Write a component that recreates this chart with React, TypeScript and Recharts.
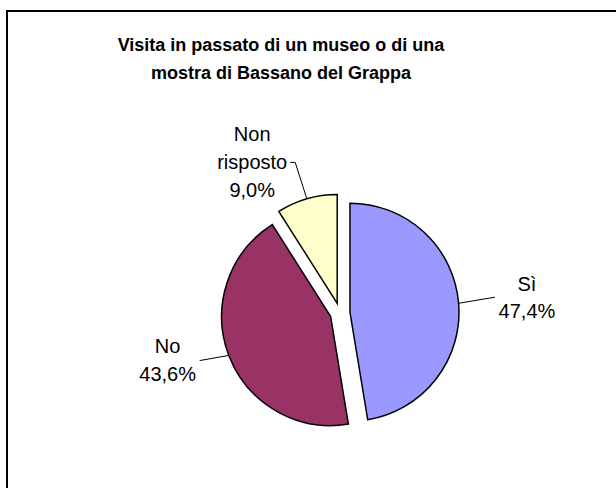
import React from 'react';
import { PieChart, Pie, Cell } from 'recharts';

const categories: string[] = ['Sì', 'No', 'Non risposto'];
const percentages: number[] = [47.4, 43.6, 9.0];
const colors: string[] = ['#9999FF', '#993366', '#FFFFCC'];
const titleLines: string[] = ['Visita in passato di un museo o di una', 'mostra di Bassano del Grappa'];

const data = categories.map((name, i) => ({ name, value: percentages[i] }));

const CENTER_X = 335;
const CENTER_Y = 308;
const RADIUS = 109;
const EXPLODE = 10;
const RAD = Math.PI / 180;
const FONT = '"Liberation Sans", Arial, sans-serif';

// label layout (relative to each exploded slice centre)
const labelStyle = [
  { tx: 177, ty: -28, lh: 27, line: [[145, -15]] },
  { tx: -163, ty: 29, lh: 28, line: [[-131, 44]] },
  { tx: -85, ty: -170, lh: 28, line: [[-42, -141], [-47, -141]] },
];

// angular layout used to place the exploded slices
const total = percentages.reduce((a, b) => a + b, 0);
const midAngles: number[] = [];
{
  let acc = 0;
  percentages.forEach((v) => {
    const span = (v / total) * 360;
    midAngles.push(90 - (acc + span / 2));
    acc += span;
  });
}

const fmt = (v: number) => v.toFixed(1).replace('.', ',') + '%';

function makeLabel(sliceIdx: number) {
  return (props: any) => {
    if (props.index !== sliceIdx) return null;
    const { cx, cy, midAngle, outerRadius } = props;
    const ax = cx + outerRadius * Math.cos(-midAngle * RAD);
    const ay = cy + outerRadius * Math.sin(-midAngle * RAD);
    const st = labelStyle[sliceIdx];
    const pts = [[ax, ay], ...st.line.map(([dx, dy]) => [cx + dx, cy + dy])];
    const lines = [...categories[sliceIdx].split(' '), fmt(percentages[sliceIdx])];
    return (
      <g key={`lbl-${sliceIdx}`}>
        <polyline
          points={pts.map((p) => p.join(',')).join(' ')}
          fill="none"
          stroke="#000"
          strokeWidth={1}
        />
        {lines.map((t, k) => (
          <text
            key={k}
            x={cx + st.tx}
            y={cy + st.ty + k * st.lh}
            dy="0.36em"
            textAnchor="middle"
            fontFamily={FONT}
            fontSize={20}
            fill="#000"
          >
            {t}
          </text>
        ))}
      </g>
    );
  };
}

export default function App() {
  return (
    <div
      style={{
        position: 'absolute',
        left: 0,
        top: 0,
        width: 616,
        height: 488,
        overflow: 'hidden',
        background: '#fff',
      }}
    >
      <div
        style={{
          position: 'absolute',
          left: 6,
          top: 10,
          width: 700,
          height: 600,
          border: '2px solid #000',
          boxSizing: 'border-box',
        }}
      />
      <div
        style={{
          position: 'absolute',
          left: 81,
          top: 31,
          width: 400,
          textAlign: 'center',
          fontFamily: FONT,
          fontWeight: 'bold',
          fontSize: 18,
          lineHeight: '28px',
          color: '#000',
        }}
      >
        {titleLines.map((t, i) => (
          <div key={i}>{t}</div>
        ))}
      </div>
      <div style={{ position: 'absolute', left: 0, top: 0 }}>
        <PieChart width={616} height={488}>
          {categories.map((_, s) => {
            const ox = EXPLODE * Math.cos(-midAngles[s] * RAD);
            const oy = EXPLODE * Math.sin(-midAngles[s] * RAD);
            return (
              <Pie
                key={s}
                data={data}
                dataKey="value"
                nameKey="name"
                cx={CENTER_X + ox}
                cy={CENTER_Y + oy}
                outerRadius={RADIUS}
                innerRadius={0}
                startAngle={90}
                endAngle={-270}
                isAnimationActive={false}
                labelLine={false}
                label={makeLabel(s)}
              >
                {data.map((_, i) => (
                  <Cell
                    key={i}
                    fill={i === s ? colors[i] : 'none'}
                    stroke={i === s ? '#000' : 'none'}
                    strokeWidth={i === s ? 1.5 : 0}
                  />
                ))}
              </Pie>
            );
          })}
        </PieChart>
      </div>
    </div>
  );
}
